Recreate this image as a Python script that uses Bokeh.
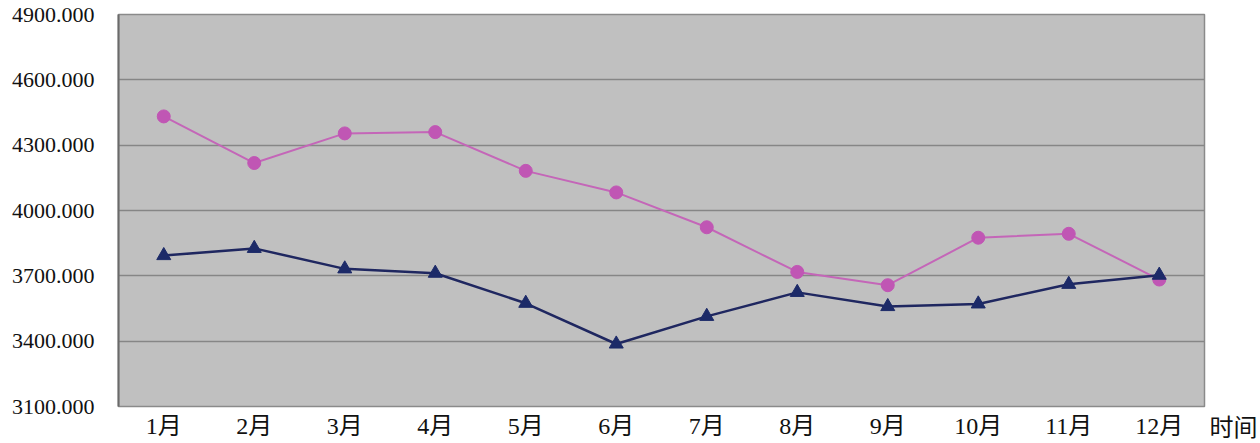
from bokeh.plotting import figure
from bokeh.models import FixedTicker, LinearAxis
from bokeh.layouts import row
from bokeh.embed import file_html
from bokeh.resources import INLINE

months = ["1月", "2月", "3月", "4月", "5月", "6月", "7月", "8月", "9月", "10月", "11月", "12月"]
x_pos = list(range(1, 13))
pink_vals = [4432, 4218, 4354, 4360, 4182, 4083, 3923, 3718, 3657, 3875, 3893, 3683]
navy_vals = [3793, 3826, 3732, 3712, 3574, 3387, 3514, 3624, 3559, 3571, 3661, 3703]
y_ticks = [3100, 3400, 3700, 4000, 4300, 4600, 4900]
x_title = "时间"

FONT = "Liberation Serif, Noto Sans CJK SC"
H = 443

p = figure(width=1206, height=H, output_backend="svg", toolbar_location=None,
           x_range=(0.5, 12.5), y_range=(3100, 4900),
           min_border_left=118, min_border_right=2, min_border_top=14, min_border_bottom=26)

p.background_fill_color = "#c0c0c0"
p.border_fill_color = "white"
p.outline_line_color = "#8a8a8a"
p.outline_line_width = 1.5

p.xgrid.grid_line_color = None
p.ygrid.grid_line_color = "#868686"
p.ygrid.grid_line_width = 1.5
p.ygrid.ticker = FixedTicker(ticks=y_ticks)

p.yaxis.ticker = FixedTicker(ticks=y_ticks)
p.yaxis.major_label_overrides = {t: f"{t:.3f}" for t in y_ticks}
p.yaxis.major_tick_line_color = None
p.yaxis.minor_tick_line_color = None
p.yaxis.axis_line_color = "#6a6a6a"
p.yaxis.axis_line_width = 2
p.yaxis.major_label_text_font = FONT
p.yaxis.major_label_text_font_size = "22px"
p.yaxis.major_label_text_color = "#111111"
p.yaxis.major_label_standoff = 18

p.xaxis.ticker = FixedTicker(ticks=x_pos)
p.xaxis.major_label_overrides = {i: m for i, m in zip(x_pos, months)}
p.xaxis.major_tick_line_color = None
p.xaxis.minor_tick_line_color = None
p.xaxis.axis_line_color = None
p.xaxis.major_label_text_font = FONT
p.xaxis.major_label_text_font_size = "24px"
p.xaxis.major_label_text_color = "#111111"
p.xaxis.major_label_standoff = 0

p.line(x_pos, pink_vals, line_color="#c466b8", line_width=2)
p.scatter(x_pos, pink_vals, marker="circle", size=13, fill_color="#c056b4", line_color="#c056b4")

p.line(x_pos, navy_vals, line_color="#1f2760", line_width=2.5)
p.scatter(x_pos, navy_vals, marker="triangle", size=14, fill_color="#1c2a68", line_color="#1c2a68")

# side panel: its (tickless) x axis carries the axis title to the right of the plot
q = figure(width=54, height=H, output_backend="svg", toolbar_location=None,
           x_range=(0, 1), y_range=(0, 1), x_axis_type=None, y_axis_type=None,
           min_border_left=0, min_border_right=0, min_border_top=14, min_border_bottom=26)
q.grid.visible = False
q.outline_line_color = None
q.background_fill_color = "white"
q.border_fill_color = "white"
ax = LinearAxis(ticker=FixedTicker(ticks=[]), axis_label=x_title,
                axis_line_color=None, major_tick_line_color=None, minor_tick_line_color=None,
                major_label_text_font_size="0px")
ax.axis_label_text_font = FONT
ax.axis_label_text_font_size = "24px"
ax.axis_label_text_font_style = "normal"
ax.axis_label_text_color = "#111111"
ax.axis_label_standoff = 8
q.add_layout(ax, "below")

layout = row(p, q, spacing=0)
open("out.html", "w").write(file_html(layout, INLINE))
